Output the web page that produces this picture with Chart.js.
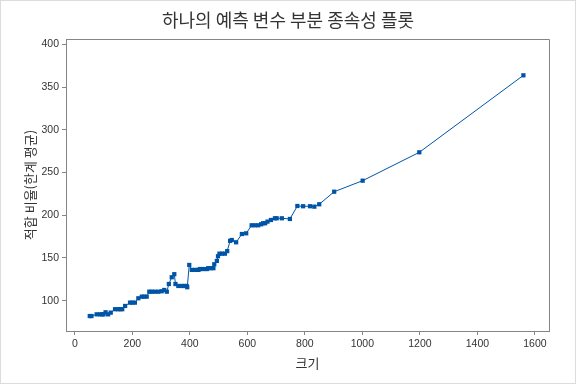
<!DOCTYPE html>
<html>
<head>
<meta charset="utf-8">
<script src="https://cdn.jsdelivr.net/npm/chart.js@4/dist/chart.umd.min.js"></script>
<style>
html,body{margin:0;padding:0;background:#fff;}
#wrap{width:576px;height:384px;position:relative;}
</style>
</head>
<body>
<div id="wrap"><canvas id="c" width="576" height="384"></canvas></div>
<script>
const chartTitle = '하나의 예측 변수 부분 종속성 플롯';
const xTitle = '크기';
const yTitle = '적합 비율(한계 평균)';
const sizes = [52, 58, 76, 88, 95, 100, 107, 116, 125, 140, 150, 158, 165, 175, 192, 200, 209, 221, 233, 241, 250, 259, 267, 278, 290, 302, 311, 320, 327, 337, 346, 350, 360, 372, 380, 389, 391, 398, 407, 418, 430, 435, 447, 459, 464, 473, 482, 485, 494, 498, 503, 512, 522, 530, 540, 546, 561, 581, 596, 615, 626, 638, 648, 655, 662, 670, 682, 696, 702, 720, 748, 774, 794, 818, 833, 850, 902, 1001, 1198, 1560];
const fitted = [82, 82, 84, 84, 84, 84, 86.4, 84, 86, 90, 90, 90, 90, 93.8, 97.7, 97.7, 97.7, 102.8, 104.7, 104.7, 104.7, 110.5, 110.5, 110.5, 110.5, 111, 112.5, 110.5, 119.5, 127.4, 131, 119.5, 117.2, 117.2, 117.2, 117.2, 115.7, 141.8, 136, 136, 136, 137, 137, 137, 138, 138, 138, 142.6, 146.5, 152, 155, 155, 155, 158, 170, 171, 168.3, 178, 178.8, 188.2, 188.2, 188.2, 189.4, 190.6, 190.6, 192.5, 194.4, 196.4, 196.4, 196.4, 195.6, 210.8, 210.5, 210.5, 210, 212.8, 227.5, 240.4, 273.6, 363.7];
const xTicks = [0, 200, 400, 600, 800, 1000, 1200, 1400, 1600];
const yTicks = [100, 150, 200, 250, 300, 350, 400];

const points = sizes.map((s, i) => ({x: s, y: fitted[i]}));
const blue = '#0054a6';
const axisGray = '#858585';
const txt = '#333333';
const numFont = {family: '"Liberation Sans", Arial, sans-serif', size: 10.5};
const krFont = '"Noto Sans CJK KR", "Noto Sans", sans-serif';

const frame = {
  id: 'frame',
  afterDraw(chart) {
    const {ctx, chartArea: a} = chart;
    ctx.save();
    ctx.strokeStyle = axisGray;
    ctx.lineWidth = 1;
    ctx.beginPath();
    ctx.moveTo(Math.round(a.left) + 0.5, Math.round(a.top) + 0.5);
    ctx.lineTo(Math.round(a.right) + 0.5, Math.round(a.top) + 0.5);
    ctx.lineTo(Math.round(a.right) + 0.5, Math.round(a.bottom) + 0.5);
    ctx.stroke();
    ctx.strokeStyle = '#dcdcdc';
    ctx.strokeRect(0.5, 0.5, chart.width - 1, chart.height - 1);
    ctx.restore();
  }
};

new Chart(document.getElementById('c'), {
  type: 'scatter',
  data: {
    datasets: [{
      data: points,
      showLine: true,
      borderColor: blue,
      borderWidth: 1,
      backgroundColor: blue,
      pointStyle: 'rect',
      pointRadius: 3,
      pointBorderWidth: 0,
      pointBackgroundColor: blue,
      tension: 0
    }]
  },
  options: {
    responsive: false,
    animation: false,
    layout: {padding: {left: 0, right: 0, top: 0, bottom: 0}},
    plugins: {
      legend: {display: false},
      tooltip: {enabled: false},
      title: {
        display: true,
        text: chartTitle,
        color: txt,
        font: {family: krFont, size: 18, weight: 'normal'},
        padding: {top: 9, bottom: 8.4}
      }
    },
    scales: {
      x: {
        type: 'linear',
        min: -30.6,
        max: 1649,
        afterBuildTicks: s => { s.ticks = xTicks.map(v => ({value: v})); },
        afterFit: s => { s.height = 53; },
        ticks: {color: txt, font: numFont, padding: 3, maxRotation: 0, autoSkip: false, callback: v => String(v)},
        grid: {display: true, drawOnChartArea: false, drawTicks: true, tickLength: 4, color: axisGray},
        border: {display: true, color: axisGray},
        title: {display: true, text: xTitle, color: txt, font: {family: krFont, size: 13}, padding: {top: 0, bottom: 13}}
      },
      y: {
        type: 'linear',
        min: 64.5,
        max: 406.2,
        afterBuildTicks: s => { s.ticks = yTicks.map(v => ({value: v})); },
        afterFit: s => { s.width = 66; },
        ticks: {color: txt, font: numFont, padding: 3, autoSkip: false, callback: v => String(v)},
        grid: {display: true, drawOnChartArea: false, drawTicks: true, tickLength: 4, color: axisGray},
        border: {display: true, color: axisGray},
        title: {display: true, text: yTitle, color: txt, font: {family: krFont, size: 13}, padding: {top: 22, bottom: 0}}
      },
      yr: {
        type: 'linear',
        position: 'right',
        display: true,
        min: 0,
        max: 1,
        afterFit: s => { s.width = 27; },
        ticks: {display: false},
        grid: {display: false},
        border: {display: false},
        title: {display: false}
      }
    }
  },
  plugins: [frame]
});
</script>
</body>
</html>
